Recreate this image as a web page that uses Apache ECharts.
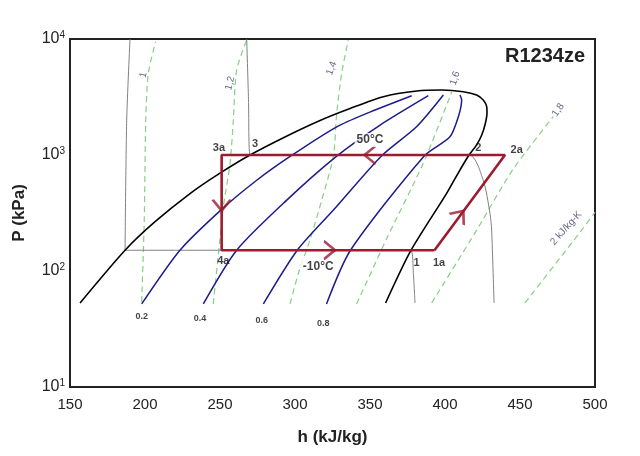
<!DOCTYPE html>
<html>
<head>
<meta charset="utf-8">
<title>R1234ze P-h</title>
<script src="https://cdn.jsdelivr.net/npm/echarts@6/dist/echarts.min.js"></script>
<style>
html, body { margin: 0; padding: 0; background: #fff; }
#chart { width: 640px; height: 456px; }
</style>
</head>
<body>
<div id="chart"></div>
<script>
// saturation dome [h, P]
var dome = [[156.7,53],[186.7,151],[206.7,266],[230,465],[250,697],[270,1000],[293.3,1432],[316.7,1986],[336.7,2518],
    [358.9,3180],[381.1,3560],[397.8,3630],[412.2,3510],[421.1,3290],[425.5,2980],[427.8,2608],[428,2300],[426.8,1849],
    [424.5,1487],[421,1217],[416,1000],[408,671],[401.1,467],[377.1,149],[360.4,53]];
// quality lines
var q02 = [[197.8,52],[223.3,151],[251.1,340],[274.5,606],[297,977],[327.8,1750],[347.8,2285],[377.8,3245]];
var q04 = [[238.9,52],[261.1,151],[294.5,408],[327.8,977],[356,1786],[388.9,3245]];
var q06 = [[278.9,52],[301.5,151],[325.6,335],[357.5,977],[381,1750],[398.9,3290]];
var q08 = [[321,52],[337,151],[386,977],[403.3,1437],[408.9,2140],[411.1,2980],[410,3290]];
// isentropes
var s10 = [[197.8,54],[199.5,274],[200.5,2000],[202.2,5060],[207.1,9480]];
var s12 = [[245.5,52],[250,190],[252.2,357],[256.7,847],[258.9,2000],[261.1,5410],[267.8,9800]];
var s14 = [[296.7,52],[302.2,95],[310,185],[317.8,408],[325.5,964],[327.8,2285],[331.1,5060],[335.5,9800]];
var s16 = [[341.1,52],[361.1,190],[385.5,847],[404.5,3510]];
var s18 = [[391.1,53],[421.1,225],[445,741],[472.2,2140]];
var s20 = [[453.3,53],[491.1,225],[500,321]];
// isotherms -10 and 50 C
var tLow = [[190,10000],[187.8,2000],[186.7,151],[377.1,151],[378.9,95],[380,53]];
var tHigh = [[267.8,10000],[269,3000],[270,1000],[416,1000],[425.5,606],[430,313],[431.1,225],[432.7,53]];
// cycle 1a-2a-3a-4a
var cycle = [[393,151],[440,1000],[251.1,1000],[251.1,151],[393,151]];
var arrowPts = [[350,1000],[251.1,370],[323,151],[410,303]];
var arrowDir = [180,-90,0,52];
// text
var pointLabels = [[249.3,1148,'3a'],[273.3,1242,'3'],[422.2,1141,'2'],[447.8,1102,'2a'],[381.1,118,'1'],[396,118,'1a'],[252.2,122,'4a']];
var tempLabels = [[350,1346,'50°C'],[315.5,108,'-10°C']];
var qualLabels = [[197.8,40.2,'0.2'],[236.7,38.9,'0.4'],[277.8,37.1,'0.6'],[318.9,35.6,'0.8']];
var isoLabels = [[198.9,4890,'1'],[256.7,4150,'1,2'],[324.4,5590,'1,4'],[406.7,4580,'1,6'],[475.5,2440,'1,8'],[480.7,234,'2 kJ/kg-K']];
var isoRot = [78,76,70,72,55,48];

window.onload = function() {
    var font = 'Liberation Sans, Arial, sans-serif';
    var chart = echarts.init(document.getElementById('chart'));

    function curve(data, color, width, dash) {
        return {
            type: 'line', data: data, symbol: 'none', smooth: 0.25, silent: true,
            lineStyle: { color: color, width: width, type: dash || 'solid' }, z: 2
        };
    }
    function textSeries(arr, lbl) {
        return {
            type: 'scatter', symbolSize: 0, silent: true, z: 5,
            data: arr.map(function(d) { return { value: [d[0], d[1], d[2]] }; }),
            label: Object.assign({ show: true, position: 'inside', fontFamily: font,
                formatter: function(p) { return p.value[2]; } }, lbl)
        };
    }

    var green = '#86cf86', blue = '#1c1c8a', red = '#9b1c30';
    var series = [
        curve(s10, green, 1.2, [6, 4]),
        curve(s12, green, 1.2, [6, 4]),
        curve(s14, green, 1.2, [6, 4]),
        curve(s16, green, 1.2, [6, 4]),
        curve(s18, green, 1.2, [6, 4]),
        curve(s20, green, 1.2, [6, 4]),
        curve(tLow, '#808080', 1),
        curve(tHigh, '#808080', 1),
        curve(q02, blue, 1.5),
        curve(q04, blue, 1.5),
        curve(q06, blue, 1.5),
        curve(q08, blue, 1.5),
        curve(dome, '#000', 1.6),
        { type: 'line', data: cycle, symbol: 'none', silent: true, z: 3,
          lineStyle: { color: red, width: 2.6 } },
        { type: 'scatter', silent: true, z: 4,
          data: arrowPts.map(function(d, i) { return { value: d, symbolRotate: arrowDir[i] }; }),
          symbol: 'path://M0,0 L10,9 L0,18', symbolSize: [11, 18],
          itemStyle: { color: 'none', borderColor: red, borderWidth: 2.4 } },
        textSeries(pointLabels, { fontSize: 11, fontWeight: 'bold', color: '#111' }),
        textSeries(tempLabels, { fontSize: 12, fontWeight: 'bold', color: '#111', backgroundColor: '#fff', padding: [1, 2] }),
        textSeries(qualLabels, { fontSize: 9, fontWeight: 'bold', color: '#111' })
    ];
    var iso = textSeries(isoLabels, { fontSize: 10, color: '#40406a' });
    iso.data = isoLabels.map(function(d, i) { return { value: [d[0], d[1], d[2]], label: { rotate: isoRot[i] } }; });
    series.push(iso);

    var option = {
        animation: false,
        title: {
            text: 'R1234ze', right: 55, top: 46, padding: 0,
            textStyle: { fontFamily: font, fontSize: 20, fontWeight: 'bold', color: '#222' }
        },
        grid: { left: 70, right: 45, top: 39, bottom: 69, show: true, borderColor: '#222', borderWidth: 2 },
        xAxis: {
            type: 'value', min: 150, max: 500, interval: 50,
            name: 'h (kJ/kg)', nameLocation: 'middle', nameGap: 42,
            nameTextStyle: { fontFamily: font, fontSize: 17, fontWeight: 'bold', color: '#222' },
            axisLine: { show: false }, axisTick: { show: false }, splitLine: { show: false },
            axisLabel: { fontFamily: font, fontSize: 15, color: '#222', margin: 10 }
        },
        yAxis: {
            type: 'log', logBase: 10, min: 10, max: 10000,
            name: 'P (kPa)', nameLocation: 'middle', nameGap: 42,
            nameTextStyle: { fontFamily: font, fontSize: 17, fontWeight: 'bold', color: '#222' },
            axisLine: { show: false }, axisTick: { show: false }, splitLine: { show: false },
            axisLabel: {
                margin: 5,
                formatter: function(v) { return '{b|10}{s|' + Math.round(Math.log(v) / Math.LN10) + '}'; },
                rich: {
                    b: { fontFamily: font, fontSize: 16, color: '#222' },
                    s: { fontFamily: font, fontSize: 10, color: '#222', verticalAlign: 'top', padding: [0, 0, 8, 0] }
                }
            }
        },
        series: series
    };
    chart.setOption(option);
};
</script>
</body>
</html>
